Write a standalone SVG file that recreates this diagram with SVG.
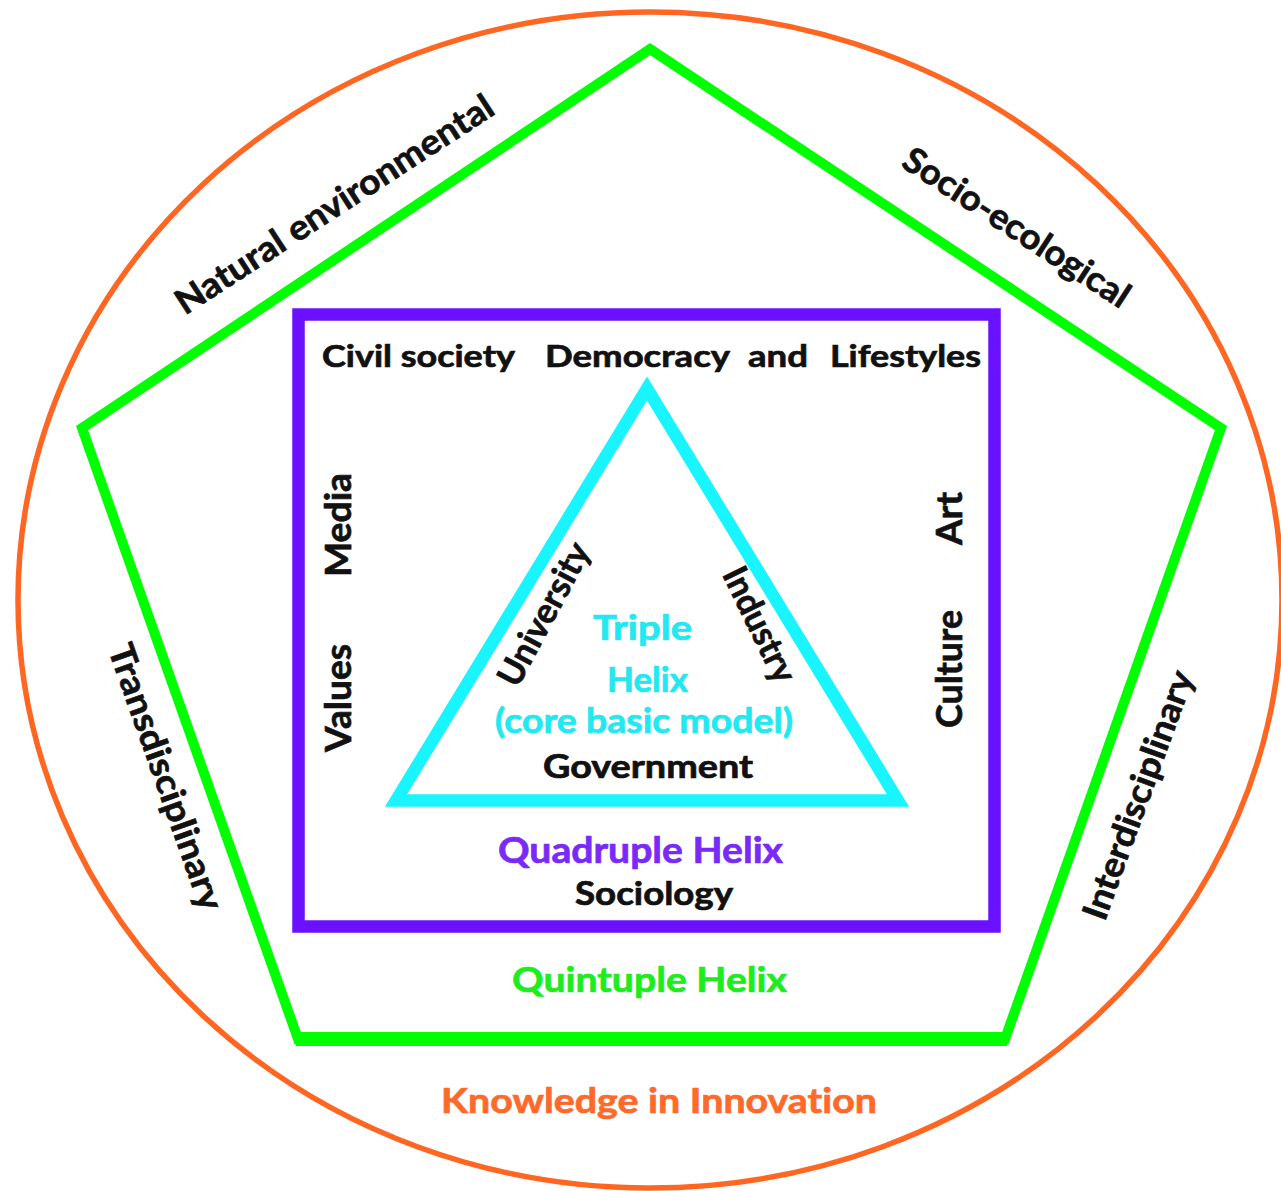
<svg xmlns="http://www.w3.org/2000/svg" width="1281" height="1191" viewBox="0 0 1281 1191">
<style>
text{font-family:Lato,"Open Sans","Liberation Sans",sans-serif;font-weight:700;fill:#111;stroke:#111;stroke-width:0.7;font-variant-ligatures:none;font-feature-settings:"liga" 0,"clig" 0}
.or{fill:#ff6a2a;stroke:#ff6a2a}
.gr{fill:#1ded1d;stroke:#1ded1d}
.pu{fill:#7a2af8;stroke:#7a2af8}
.cy{fill:#22e8f2;stroke:#22e8f2}
.c{text-anchor:middle}
</style>
<rect width="1281" height="1191" fill="#ffffff"/>
<g id="knowledge">
<ellipse cx="650" cy="600" rx="632" ry="588" fill="none" stroke="#ff6622" stroke-width="5.5"/>
<text class="or" x="441" y="1113" font-size="35" textLength="436" lengthAdjust="spacingAndGlyphs">Knowledge in Innovation</text>
</g>
<g id="quintuple">
<polygon points="650,49 1221,428 1005,1039 298,1039 82,428" fill="none" stroke="#00ff00" stroke-width="10" stroke-linejoin="miter"/>
<line x1="296" y1="1039" x2="1007" y2="1039" stroke="#00ff00" stroke-width="14"/>
<text class="gr" x="512" y="992" font-size="35" textLength="275" lengthAdjust="spacingAndGlyphs">Quintuple Helix</text>
<text class="c" transform="translate(336,207) rotate(-33)" y="9" font-size="35" textLength="372" lengthAdjust="spacingAndGlyphs">Natural environmental</text>
<text class="c" transform="translate(1015,230) rotate(33)" y="9" font-size="35" textLength="263" lengthAdjust="spacingAndGlyphs">Socio-ecological</text>
<text class="c" transform="translate(163,778) rotate(70.5)" y="9" font-size="35" textLength="280" lengthAdjust="spacingAndGlyphs">Transdisciplinary</text>
<text class="c" transform="translate(1141,796) rotate(-70)" y="9" font-size="35" textLength="262" lengthAdjust="spacingAndGlyphs">Interdisciplinary</text>
</g>
<g id="quadruple">
<rect x="298.5" y="314.5" width="696" height="612" fill="none" stroke="#6a11ff" stroke-width="12.5"/>
<text x="322" y="367" font-size="31" textLength="193" lengthAdjust="spacingAndGlyphs">Civil society</text>
<text x="545" y="367" font-size="31" textLength="185" lengthAdjust="spacingAndGlyphs">Democracy</text>
<text x="748" y="367" font-size="31" textLength="60" lengthAdjust="spacingAndGlyphs">and</text>
<text x="830" y="367" font-size="31" textLength="151" lengthAdjust="spacingAndGlyphs">Lifestyles</text>
<text transform="translate(351,577) rotate(-90)" font-size="37" textLength="104" lengthAdjust="spacingAndGlyphs">Media</text>
<text transform="translate(351,752) rotate(-90)" font-size="37" textLength="108" lengthAdjust="spacingAndGlyphs">Values</text>
<text transform="translate(962,545) rotate(-90)" font-size="37" textLength="53" lengthAdjust="spacingAndGlyphs">Art</text>
<text transform="translate(962,728) rotate(-90)" font-size="37" textLength="118" lengthAdjust="spacingAndGlyphs">Culture</text>
<text class="pu" x="498" y="863" font-size="37" textLength="285" lengthAdjust="spacingAndGlyphs">Quadruple Helix</text>
<text x="575" y="905" font-size="32.5" textLength="158" lengthAdjust="spacingAndGlyphs">Sociology</text>
</g>
<g id="triple">
<polygon points="647,388.5 396,800.5 898,800.5" fill="none" stroke="#18f5ff" stroke-width="12.5" stroke-linejoin="miter"/>
<text class="cy" x="593" y="640" font-size="35" textLength="99" lengthAdjust="spacingAndGlyphs">Triple</text>
<text class="cy" x="607" y="691.5" font-size="35" textLength="81" lengthAdjust="spacingAndGlyphs">Helix</text>
<text class="cy" x="495" y="733" font-size="35" textLength="298" lengthAdjust="spacingAndGlyphs">(core basic model)</text>
<text x="543" y="778" font-size="32.5" textLength="210" lengthAdjust="spacingAndGlyphs">Government</text>
<text class="c" transform="translate(546.5,615.5) rotate(-62)" y="9" font-size="35" textLength="157" lengthAdjust="spacingAndGlyphs">University</text>
<text class="c" transform="translate(757,626) rotate(64)" y="9" font-size="35" textLength="124" lengthAdjust="spacingAndGlyphs">Industry</text>
</g>
<g id="connectors"></g>
</svg>
